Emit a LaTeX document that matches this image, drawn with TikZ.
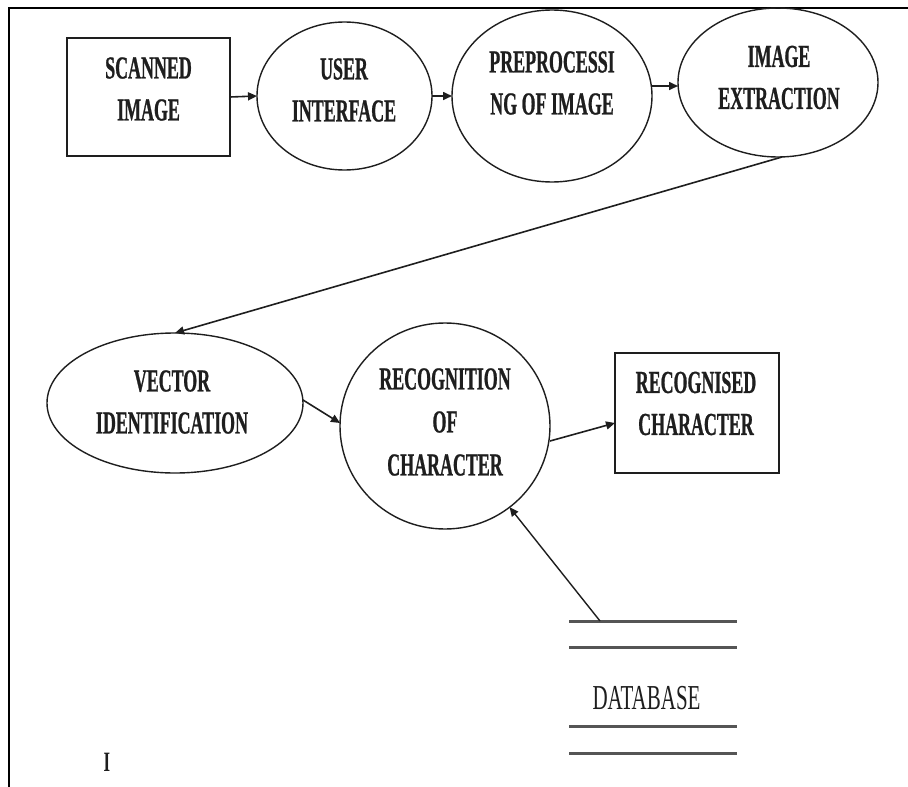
\documentclass[tikz,border=0pt]{standalone}
\usepackage{fontspec}
\setmainfont{Liberation Serif}
\newfontfamily\condserif[FakeStretch=0.56, BoldFeatures={FakeBold=0.7}]{Liberation Serif}
\newfontfamily\condplain[FakeStretch=0.6]{Liberation Serif}
\usetikzlibrary{shapes.geometric,arrows.meta}
\definecolor{ink}{HTML}{1E1E1E}
\definecolor{dbgray}{HTML}{555555}
\tikzset{
  shapeline/.style={draw=ink, line width=1.4pt, inner sep=0pt, outer sep=0pt},
  boxnode/.style={shapeline, rectangle, line width=1.8pt},
  ovalnode/.style={shapeline, ellipse},
  lbl/.style={text=ink, align=center, inner sep=0pt,
    font=\condserif\bfseries\fontsize{32}{42}\selectfont},
  arr/.style={draw=ink, line width=1.6pt, -{Triangle[length=9pt,width=8pt]}},
  dbline/.style={draw=dbgray, line width=3pt},
  frameline/.style={draw=black, line width=2.5pt}
}
\begin{document}
\begin{tikzpicture}[x=1pt,y=-1pt]
\useasboundingbox (0,0) rectangle (908,787);
\fill[white] (0,0) rectangle (908,787);
% frame
\draw[frameline] (9,787) -- (9,8) -- (908,8);
% shapes
\node[boxnode, minimum width=163pt, minimum height=118pt] (scan) at (148.5,97) {};
\node[ovalnode, minimum width=175pt, minimum height=148pt] (ui) at (344.5,96) {};
\node[ovalnode, minimum width=200pt, minimum height=172pt] (pre) at (552,96) {};
\node[ovalnode, minimum width=200pt, minimum height=149pt] (ext) at (778,82.5) {};
\node[ovalnode, minimum width=256pt, minimum height=140pt] (vec) at (175,403) {};
\node[ovalnode, minimum width=210pt, minimum height=206pt] (rec) at (445,426) {};
\node[boxnode, minimum width=164pt, minimum height=120pt] (res) at (697,413) {};
% labels
\node[lbl] (t1) at (148.5,89) {SCANNED\\IMAGE};
\node[lbl] (t2) at (344,90) {USER\\INTERFACE};
\node[lbl] (t3) at (552,83) {PREPROCESSI\\NG OF IMAGE};
\node[lbl] (t4) at (779,77.5) {IMAGE\\EXTRACTION};
\node[lbl] (t5) at (172,402) {VECTOR\\IDENTIFICATION};
\node[lbl, font=\condserif\bfseries\fontsize{32}{43}\selectfont] (t6) at (445,422) {RECOGNITION\\OF\\CHARACTER};
\node[lbl] (t7) at (696,403.5) {RECOGNISED\\CHARACTER};
% database store
\coordinate (db1l) at (569,621); \coordinate (db1r) at (737,621);
\coordinate (db2l) at (569,647); \coordinate (db2r) at (737,647);
\coordinate (db3l) at (569,726); \coordinate (db3r) at (737,726);
\coordinate (db4l) at (569,753); \coordinate (db4r) at (737,753);
\draw[dbline] (db1l) -- (db1r);
\draw[dbline] (db2l) -- (db2r);
\draw[dbline] (db3l) -- (db3r);
\draw[dbline] (db4l) -- (db4r);
\node[text=ink, inner sep=0pt, font=\condplain\fontsize{35}{40}\selectfont] (db) at (646.5,698) {DATABASE};
\coordinate (dbtop) at (600,621);
\node[text=ink, inner sep=0pt, font=\condplain\bfseries\fontsize{28}{30}\selectfont] (cursor) at (107,762) {I};
% connectors
\draw[arr] (scan.east) -- (ui.west);
\draw[arr] (ui.east) -- (pre.west);
\draw[arr] ([yshift=10pt]pre.east) -- ([yshift=-3.5pt]ext.west);
\draw[arr] ([xshift=4pt]ext.south) -- (vec.north);
\draw[arr] ([yshift=3pt]vec.east) -- ([yshift=3pt]rec.west);
\draw[arr] ([yshift=-15pt]rec.east) -- ([yshift=-10pt]res.west);
\draw[draw=ink, line width=1.4pt, -{Triangle[length=9pt,width=8pt]}] (dbtop) -- (rec);
\end{tikzpicture}
\end{document}
